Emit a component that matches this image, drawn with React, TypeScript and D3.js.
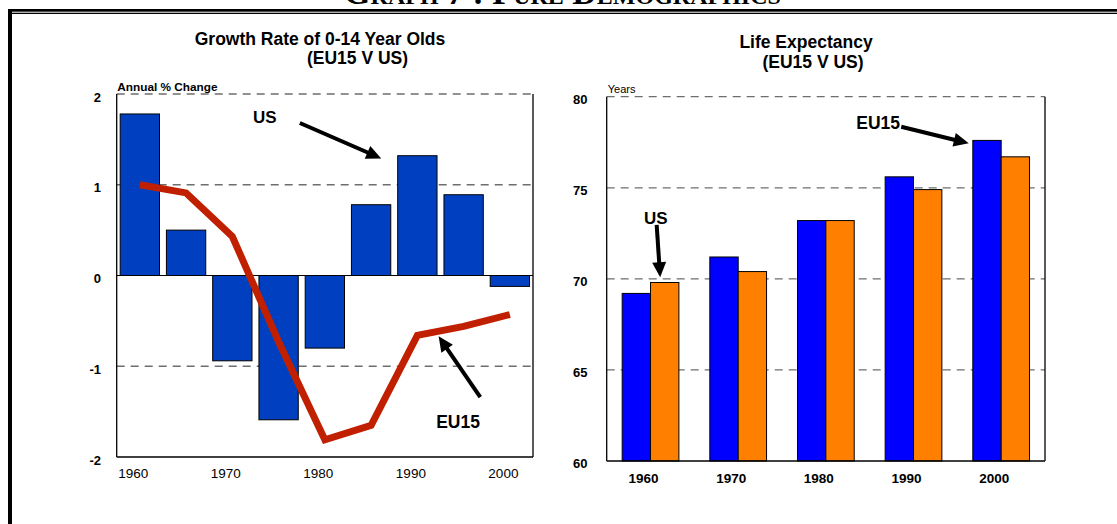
import React from "react";
import * as d3 from "d3";

// ---------- Data ----------
const growthPeriods = ["1960-65", "1965-70", "1970-75", "1975-80", "1980-85", "1985-90", "1990-95", "1995-00", "2000-05"];
const usGrowth = [1.78, 0.5, -0.94, -1.59, -0.8, 0.78, 1.32, 0.89, -0.12];
const eu15Growth = [1.0, 0.91, 0.43, -0.73, -1.81, -1.65, -0.66, -0.56, -0.43];
const growthTicks = [2, 1, 0, -1, -2];
const growthYearTicks = [1960, 1970, 1980, 1990, 2000];

const lifeYears = ["1960", "1970", "1980", "1990", "2000"];
const lifeEU15 = [69.2, 71.2, 73.2, 75.6, 77.6];
const lifeUS = [69.8, 70.4, 73.2, 74.9, 76.7];
const lifeTicks = [80, 75, 70, 65, 60];

const SANS = "'Liberation Sans', Arial, sans-serif";
const GRID = "#6e6e6e";

function Arrow({ x1, y1, x2, y2 }: { x1: number; y1: number; x2: number; y2: number }) {
  const dx = x2 - x1, dy = y2 - y1;
  const len = Math.hypot(dx, dy);
  const ux = dx / len, uy = dy / len;
  const hl = 15, hw = 7;
  const bx = x2 - ux * hl, by = y2 - uy * hl;
  const px = -uy, py = ux;
  return (
    <g>
      <line x1={x1} y1={y1} x2={bx + ux * 2} y2={by + uy * 2} stroke="#000" strokeWidth={4} />
      <polygon
        points={`${x2},${y2} ${bx + px * hw},${by + py * hw} ${bx - px * hw},${by - py * hw}`}
        fill="#000"
      />
    </g>
  );
}

function GrowthChart() {
  const left = 116.7, right = 533, top = 94, bottom = 457;
  const y = d3.scaleLinear().domain([-2, 2]).range([bottom, top]);
  const xb = d3.scaleBand<string>().domain(growthPeriods).range([left, right]).paddingInner(0.15).paddingOuter(0.075);
  const xt = d3.scaleLinear().domain([1958.2, 2003.2]).range([left, right]);
  const line = d3
    .line<number>()
    .x((_, i) => (xb(growthPeriods[i]) as number) + xb.bandwidth() / 2)
    .y((d) => y(d));
  return (
    <g fontFamily={SANS}>
      <text x={320} y={45} textAnchor="middle" fontWeight="bold" fontSize={17.5}>
        Growth Rate of 0-14 Year Olds
      </text>
      <text x={357.5} y={63.5} textAnchor="middle" fontWeight="bold" fontSize={17.5}>
        (EU15 V US)
      </text>
      <text x={117.3} y={91} fontWeight="bold" fontSize={11.8}>
        Annual % Change
      </text>
      {growthTicks.map((t) => (
        <g key={t}>
          {t !== 0 && t !== -2 && (
            <line x1={left} x2={right} y1={y(t)} y2={y(t)} stroke={GRID} strokeWidth={1.3} strokeDasharray="8,6" />
          )}
          <text x={101} y={y(t) + 7.5} textAnchor="end" fontWeight="bold" fontSize={13}>
            {t}
          </text>
        </g>
      ))}
      {usGrowth.map((v, i) => (
        <rect
          key={i}
          x={xb(growthPeriods[i])}
          width={xb.bandwidth()}
          y={Math.min(y(v), y(0))}
          height={Math.abs(y(v) - y(0))}
          fill="#0040c0"
          stroke="#000"
          strokeWidth={1}
        />
      ))}
      <line x1={left} x2={right} y1={y(0)} y2={y(0)} stroke="#000" strokeWidth={1} />
      <path d={line(eu15Growth) || ""} fill="none" stroke="#c02000" strokeWidth={7} strokeLinejoin="miter" />
      <line x1={left} x2={left} y1={top} y2={bottom} stroke="#000" strokeWidth={1.3} />
      <line x1={right} x2={right} y1={top} y2={bottom} stroke="#000" strokeWidth={1.3} />
      <line x1={left} x2={right} y1={bottom} y2={bottom} stroke="#000" strokeWidth={1.3} />
      {growthYearTicks.map((yr) => (
        <text key={yr} x={xt(yr)} y={478.3} textAnchor="middle" fontSize={13.5}>
          {yr}
        </text>
      ))}
      <text x={xt(1974.2)} y={y(1.75) + 6} textAnchor="middle" fontWeight="bold" fontSize={17}>
        US
      </text>
      <Arrow x1={xt(1978)} y1={y(1.68)} x2={xt(1986.8)} y2={y(1.29)} />
      <text x={xt(1995.1)} y={y(-1.61) + 6.5} textAnchor="middle" fontWeight="bold" fontSize={17.5}>
        EU15
      </text>
      <Arrow x1={xt(1997.5)} y1={y(-1.34)} x2={xt(1993.0)} y2={y(-0.67)} />
    </g>
  );
}

function LifeChart() {
  const left = 606.7, right = 1045, top = 96.7, bottom = 461;
  const y = d3.scaleLinear().domain([60, 80]).range([bottom, top]);
  const x0 = d3.scaleBand<string>().domain(lifeYears).range([left, right]).paddingInner(0.353).paddingOuter(0.1765);
  const series = ["EU15", "US"];
  const x1 = d3.scaleBand<string>().domain(series).range([0, x0.bandwidth()]).padding(0);
  const color = d3.scaleOrdinal<string, string>().domain(series).range(["#0000ff", "#ff8000"]);
  const xt = d3.scaleLinear().domain([1955, 2005]).range([left, right]);
  const values: Record<string, number[]> = { EU15: lifeEU15, US: lifeUS };
  return (
    <g fontFamily={SANS}>
      <text x={806} y={48.3} textAnchor="middle" fontWeight="bold" fontSize={17.5}>
        Life Expectancy
      </text>
      <text x={813} y={67.5} textAnchor="middle" fontWeight="bold" fontSize={17.5}>
        (EU15 V US)
      </text>
      <text x={607.7} y={92.7} fontSize={11}>
        Years
      </text>
      {lifeTicks.map((t) => (
        <g key={t}>
          {t !== 60 && (
            <line x1={left} x2={right} y1={y(t)} y2={y(t)} stroke={GRID} strokeWidth={1.3} strokeDasharray="8,6" />
          )}
          <text x={587.5} y={y(t) + 7.2} textAnchor="end" fontWeight="bold" fontSize={13}>
            {t}
          </text>
        </g>
      ))}
      {lifeYears.map((yr, i) => (
        <g key={yr} transform={`translate(${x0(yr)},0)`}>
          {series.map((s) => (
            <rect
              key={s}
              x={x1(s)}
              width={x1.bandwidth()}
              y={y(values[s][i])}
              height={y(60) - y(values[s][i])}
              fill={color(s)}
              stroke="#000"
              strokeWidth={1}
            />
          ))}
        </g>
      ))}
      <line x1={left} x2={left} y1={top} y2={bottom} stroke="#000" strokeWidth={1.3} />
      <line x1={right} x2={right} y1={top} y2={bottom} stroke="#000" strokeWidth={1.3} />
      <line x1={left} x2={right} y1={bottom} y2={bottom} stroke="#000" strokeWidth={1.3} />
      {lifeYears.map((yr) => (
        <text
          key={yr}
          x={(x0(yr) as number) + x0.bandwidth() / 2 - 7}
          y={482.7}
          textAnchor="middle"
          fontWeight="bold"
          fontSize={13.5}
        >
          {yr}
        </text>
      ))}
      <text x={xt(1985.97)} y={y(78.57) + 6.3} textAnchor="middle" fontWeight="bold" fontSize={17.5}>
        EU15
      </text>
      <Arrow x1={xt(1988.6)} y1={y(78.35)} x2={xt(1996.3)} y2={y(77.44)} />
      <text x={xt(1960.6)} y={y(73.32) + 6} textAnchor="middle" fontWeight="bold" fontSize={17}>
        US
      </text>
      <Arrow x1={xt(1960.7)} y1={y(72.96)} x2={xt(1961.1)} y2={y(70.09)} />
    </g>
  );
}

export default function App() {
  return (
    <div style={{ position: "absolute", left: 0, top: 0 }}>
      <svg width={1117} height={524} style={{ display: "block", background: "#fff" }}>
        <rect x={0} y={0} width={1117} height={524} fill="#fff" />
        <text
          x={562.5}
          y={3.5}
          textAnchor="middle"
          fontFamily="'Liberation Serif', 'Times New Roman', serif"
          fontWeight="bold"
          fontSize={34}
          style={{ fontVariant: "small-caps" }}
        >
          Graph 7 : Pure Demographics
        </text>
        <rect x={8} y={9} width={1109} height={2.7} fill="#000" />
        <rect x={8} y={12.7} width={1109} height={1.3} fill="#000" />
        <rect x={8} y={9} width={4} height={515} fill="#000" />
        <GrowthChart />
        <LifeChart />
      </svg>
    </div>
  );
}
